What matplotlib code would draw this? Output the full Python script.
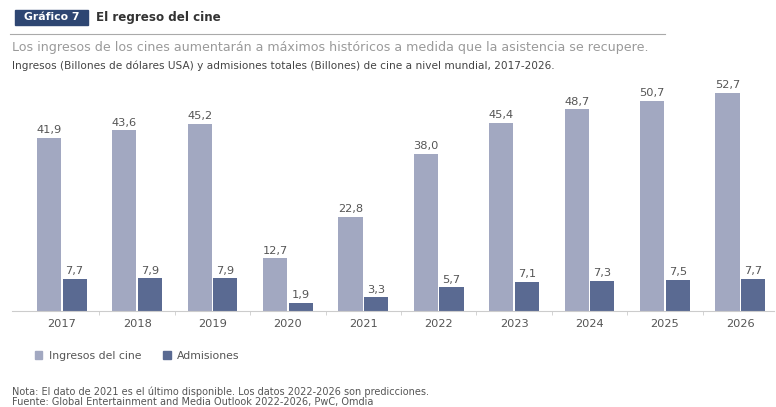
import numpy as np
import matplotlib.pyplot as plt
from matplotlib.patches import Rectangle, Patch

plt.rcParams['font.family'] = ['DejaVu Sans']

# datos
years = ['2017', '2018', '2019', '2020', '2021', '2022', '2023', '2024', '2025', '2026']
ingresos = [41.9, 43.6, 45.2, 12.7, 22.8, 38.0, 45.4, 48.7, 50.7, 52.7]
admisiones = [7.7, 7.9, 7.9, 1.9, 3.3, 5.7, 7.1, 7.3, 7.5, 7.7]

c_ing = '#A2A8C1'
c_adm = '#5A6A92'
c_txt = '#555555'

W, H = 776, 407
fig = plt.figure(figsize=(W / 100, H / 100), dpi=100)
fig.patch.set_facecolor('white')

# ejes: base en y=311 px, 4.14 px por unidad
ax = fig.add_axes([12 / W, (H - 311) / H, 761.5 / W, 248.4 / H])
x = np.arange(len(years))
w = 0.32
b1 = ax.bar(x - 0.17, ingresos, w, color=c_ing, label='Ingresos del cine')
b2 = ax.bar(x + 0.17, admisiones, w, color=c_adm, label='Admisiones')

for bars, vals in [(b1, ingresos), (b2, admisiones)]:
    for rect, v in zip(bars, vals):
        ax.annotate(f'{v:.1f}'.replace('.', ','),
                    (rect.get_x() + rect.get_width() / 2, rect.get_height()),
                    xytext=(0, 2), textcoords='offset points',
                    ha='center', va='bottom', fontsize=8.2, color=c_txt)

ax.set_xlim(-0.66, 9.44)
ax.set_ylim(0, 60)
ax.set_xticks(x)
ax.set_xticklabels(years, fontsize=8.2, color=c_txt)
ax.set_xticks(np.arange(0.5, 9, 1), minor=True)
ax.tick_params(axis='x', which='major', length=0, pad=6)
ax.tick_params(axis='x', which='minor', length=3, color='#cccccc')
ax.set_yticks([])
for s in ['top', 'right', 'left']:
    ax.spines[s].set_visible(False)
ax.spines['bottom'].set_color('#cccccc')
ax.spines['bottom'].set_linewidth(0.8)

# cabecera
fig.patches.append(Rectangle((15 / W, 1 - 25 / H), 73 / W, 15 / H,
                             transform=fig.transFigure, color='#2E4672'))
fig.text(51.5 / W, 1 - 17.5 / H, 'Gráfico 7', ha='center', va='center',
         fontsize=7.8, fontweight='bold', color='white')
fig.text(96 / W, 1 - 17.5 / H, 'El regreso del cine', ha='left', va='center',
         fontsize=8.6, fontweight='bold', color='#333333')
fig.add_artist(plt.Line2D([10 / W, 665 / W], [1 - 34 / H, 1 - 34 / H],
                          color='#aaaaaa', lw=0.8, transform=fig.transFigure))
fig.text(12 / W, 1 - 47 / H,
         'Los ingresos de los cines aumentarán a máximos históricos a medida que la asistencia se recupere.',
         ha='left', va='center', fontsize=9.1, color='#9a9a9a')
fig.text(12 / W, 1 - 66 / H,
         'Ingresos (Billones de dólares USA) y admisiones totales (Billones) de cine a nivel mundial, 2017-2026.',
         ha='left', va='center', fontsize=7.6, color='#444444')

# leyenda
fig.legend(handles=[Patch(color=c_ing, label='Ingresos del cine'),
                    Patch(color=c_adm, label='Admisiones')],
           loc='center left', bbox_to_anchor=(25 / W, 1 - 356 / H), ncol=2,
           frameon=False, fontsize=7.8, handlelength=0.7, handleheight=0.7,
           columnspacing=2.0, handletextpad=0.6, labelcolor=c_txt)

# notas
fig.text(12 / W, 1 - 391.5 / H,
         'Nota: El dato de 2021 es el último disponible. Los datos 2022-2026 son predicciones.',
         ha='left', va='center', fontsize=7, color=c_txt)
fig.text(12 / W, 1 - 401.5 / H,
         'Fuente: Global Entertainment and Media Outlook 2022-2026, PwC, Omdia',
         ha='left', va='center', fontsize=7, color=c_txt)

fig.savefig('out.png', dpi=100)
